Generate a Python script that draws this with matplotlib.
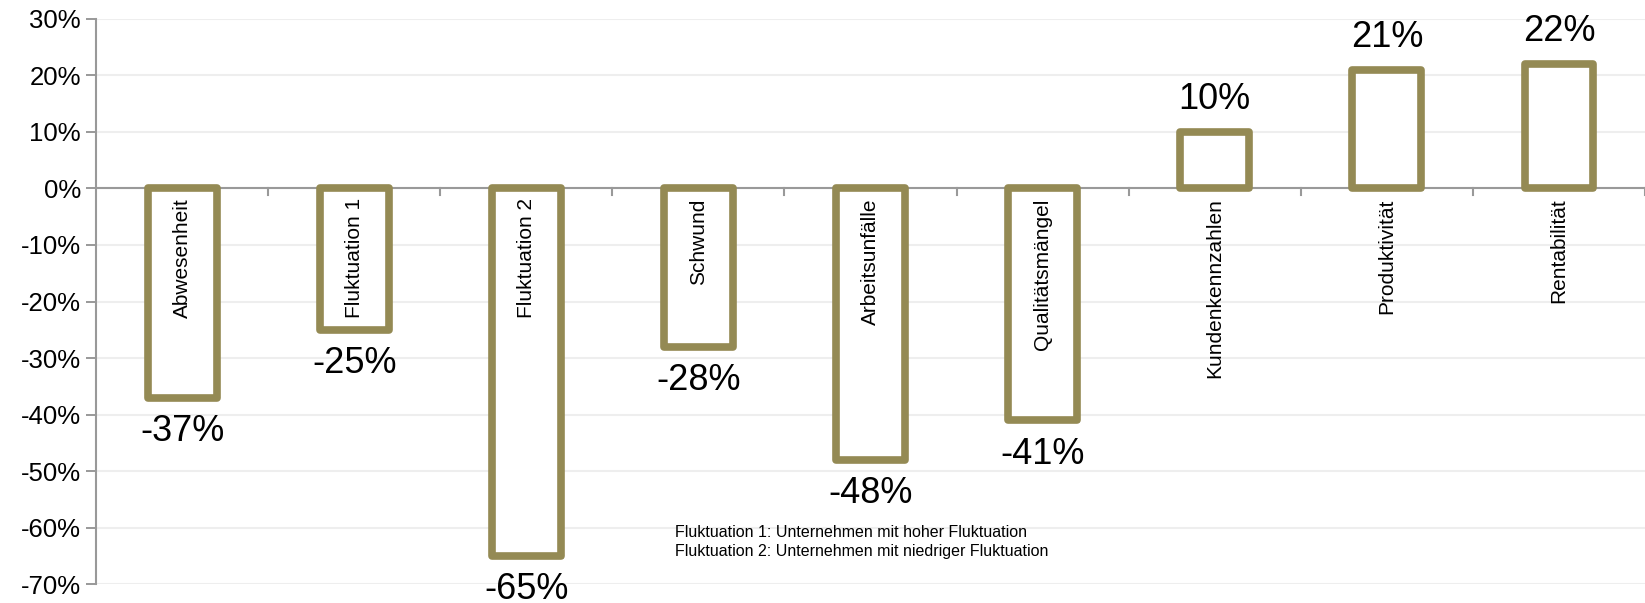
import numpy as np
import matplotlib.pyplot as plt
from matplotlib.ticker import FuncFormatter, MultipleLocator
import matplotlib.patheffects as pe

plt.rcParams['font.family'] = ['Liberation Sans', 'DejaVu Sans']

categories = ["Abwesenheit", "Fluktuation 1", "Fluktuation 2", "Schwund", "Arbeitsunfälle",
              "Qualitätsmängel", "Kundenkennzahlen", "Produktivität", "Rentabilität"]
values = [-37, -25, -65, -28, -48, -41, 10, 21, 22]
footnote = ["Fluktuation 1: Unternehmen mit hoher Fluktuation",
            "Fluktuation 2: Unternehmen mit niedriger Fluktuation"]

olive = "#948A54"

fig = plt.figure(figsize=(16.45, 6.03), dpi=100)
ax = fig.add_axes([0.0584, 0.0315, 0.9416, 0.937])

x = np.arange(len(categories))
bars = ax.bar(x, values, width=0.40, facecolor="white", edgecolor=olive, linewidth=5.5,
              joinstyle="round", zorder=3)
for b in bars:
    b.set_path_effects([pe.SimplePatchShadow(offset=(2, -2), shadow_rgbFace="#999999", alpha=0.5),
                        pe.Normal()])

# value labels
for xi, v in zip(x, values):
    if v < 0:
        ax.annotate(f"{v}%", (xi, v), xytext=(0, -12), textcoords="offset points",
                    ha="center", va="top", fontsize=26, annotation_clip=False)
    else:
        ax.annotate(f"{v}%", (xi, v), xytext=(0, 11), textcoords="offset points",
                    ha="center", va="bottom", fontsize=26, annotation_clip=False)

# category labels, rotated, just below zero line
for xi, c in zip(x, categories):
    ax.annotate(c, (xi, 0), xytext=(0, -7), textcoords="offset points",
                ha="center", va="top", rotation=90, fontsize=15, zorder=4)

ax.text(2.866, -60.8, footnote[0], fontsize=11.5, va="center", ha="left")
ax.text(2.866, -64.2, footnote[1], fontsize=11.5, va="center", ha="left")

ax.set_xlim(-0.5, len(categories) - 0.5)
ax.set_ylim(-70, 30)
ax.yaxis.set_major_locator(MultipleLocator(10))
ax.yaxis.set_major_formatter(FuncFormatter(lambda v, p: f"{int(round(v))}%"))
ax.tick_params(axis="y", labelsize=18.5, length=7, color="#888888", width=1.2, pad=4)
ax.grid(axis="y", color="#EEEEEE", linewidth=1.5, zorder=0)
ax.set_axisbelow(True)

# x axis drawn at zero with tick marks between categories
ax.set_xticks([])
ax.axhline(0, color="#999999", linewidth=1.5, zorder=2)
for b in np.arange(0.5, len(categories), 1.0):
    ax.plot([b, b], [0, -1.2], color="#999999", linewidth=1.5, zorder=2)

for s in ["top", "right", "bottom"]:
    ax.spines[s].set_visible(False)
ax.spines["left"].set_color("#999999")
ax.spines["left"].set_linewidth(1.5)

fig.savefig("out.png", dpi=100)
